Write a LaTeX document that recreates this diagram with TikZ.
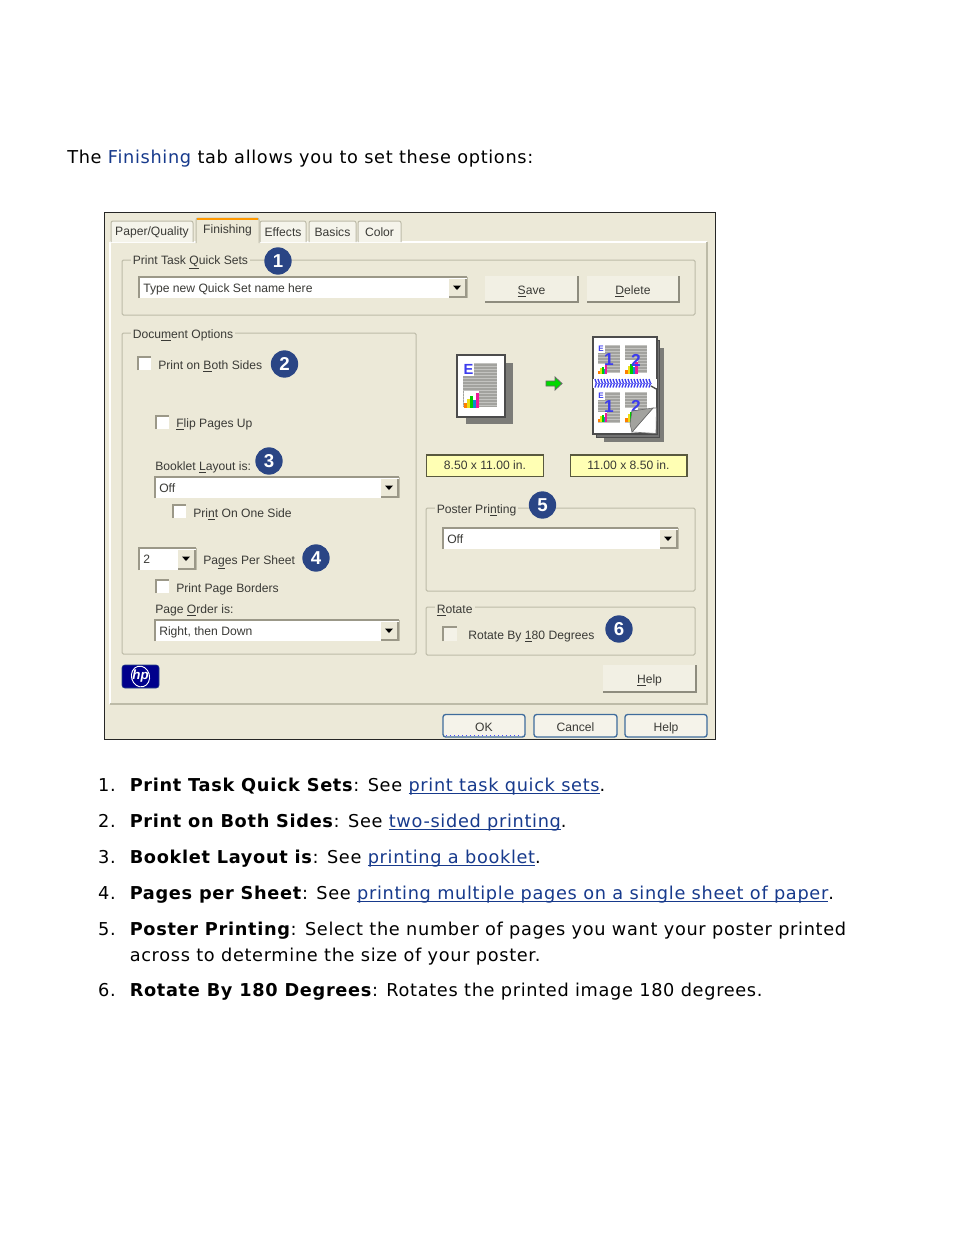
\documentclass[tikz,border=0pt]{standalone}
\usepackage{fontspec}
\setmainfont[LetterSpace=3.8]{DejaVu Sans}
\newfontfamily\dlgfont{Liberation Sans}
\definecolor{linkblue}{HTML}{173A8C}
\definecolor{dlgbg}{HTML}{ECE9D8}
\definecolor{framegrey}{HTML}{BDBBA8}
\definecolor{sunkgrey}{HTML}{9B9888}
\definecolor{dlgtext}{HTML}{3A3A36}
\definecolor{hpblue}{HTML}{2A4585}
\definecolor{xpblue}{HTML}{3F6C9C}
\definecolor{notegold}{HTML}{FFFFB4}
\definecolor{pageblue}{HTML}{3C3CEE}
\definecolor{shadegrey}{HTML}{7C7C78}
\definecolor{blockgrey}{HTML}{A2A29E}
\newcommand{\lk}[1]{\textcolor{linkblue}{\underline{\smash{#1}}}}
\tikzset{
  x=0.75pt, y=-0.75pt,
  bodytext/.style={font=\fontsize{13.3}{15}\selectfont, inner sep=0pt, anchor=base west},
  itemnum/.style={font=\fontsize{13.3}{15}\selectfont, inner sep=0pt, anchor=base east},
  lbl/.style={font=\dlgfont\fontsize{9.1}{11}\selectfont, text=dlgtext, inner sep=0pt, anchor=base west},
  grouplbl/.style={lbl, fill=dlgbg, inner xsep=1.5pt, inner ysep=1pt},
  badge/.style={circle, fill=hpblue, text=white, inner sep=0pt, minimum size=20.5pt,
    font=\dlgfont\bfseries\fontsize{14}{14}\selectfont},
  groupframe/.style={draw=framegrey, line width=0.75pt, rounded corners=1pt},
  sunken/.style={draw=sunkgrey, line width=1.2pt},
  tabline/.style={draw=framegrey, line width=0.75pt, rounded corners=1.5pt},
  pushbtn/.style={lbl, anchor=base, text=dlgtext},
  notebox/.style={draw=black!65!notegold, fill=notegold, line width=1pt, text=dlgtext,
    font=\dlgfont\fontsize{9.1}{11}\selectfont, minimum width=87.5pt, minimum height=16pt, inner sep=0pt},
  pagedigit/.style={text=pageblue, inner sep=0pt, font=\dlgfont\bfseries\fontsize{13}{13}\selectfont},
  pageletter/.style={text=pageblue, inner sep=0pt, font=\dlgfont\bfseries\fontsize{#1}{#1}\selectfont},
}
% small bar chart, lower left corner at #1,#2, bar unit #3
\newcommand{\minichart}[3]{%
  \fill [white] (#1,#2) rectangle ++(5.2*#3,-5.4*#3);
  \fill [orange] (#1+0.2*#3,#2) rectangle ++(#3,-1.6*#3);
  \fill [yellow!90!black] (#1+1.2*#3,#2) rectangle ++(#3,-3*#3);
  \fill [green!80!black] (#1+2.2*#3,#2) rectangle ++(#3,-3.8*#3);
  \fill [cyan!70!blue] (#1+3.2*#3,#2) rectangle ++(0.8*#3,-2.6*#3);
  \fill [magenta!90] (#1+4*#3,#2) rectangle ++(#3,-4.8*#3);
}
% grey text block
\newcommand{\textblock}[4]{%
  \fill [blockgrey] (#1,#2) rectangle (#3,#4);
  \pgfmathsetmacro{\nrows}{int((#4-#2)/3)}
  \foreach \k in {0,...,\nrows} \draw [white!35!blockgrey, line width=0.25pt] (#1,#2+\k*3) -- (#3,#2+\k*3);
}
\begin{document}
\begin{tikzpicture}
\useasboundingbox [fill=white] (0,0) rectangle (954,1235);
% Intro line
\node [bodytext] (intro) at (67,163.4) {The \textcolor{linkblue}{Finishing} tab allows you to set these options:};
% Window
\draw [fill=dlgbg, line width=1.2pt, draw=black!85] (104.5,212.5) rectangle (715.5,739.5);
\draw [white, line width=1pt, fill=dlgbg] (110,242) -- (110,704);
\draw [white, line width=1pt] (110,242) -- (707,242);
\draw [framegrey, line width=1.4pt] (707,242) -- (707,704) -- (110,704);
% Tabs
\foreach \n/\xa/\xb/\txt in {paper/111/193/{Paper/Quality}, effects/260/306/Effects, basics/309/356/Basics, color/358/401/Color}{
  \draw [tabline, fill=dlgbg!50!white] (\xa,242) -- (\xa,221) -- (\xb,221) -- (\xb,242);
  \node [lbl, anchor=center] (tab\n) at ({(\xa+\xb)/2},232) {\txt};
}
\draw [tabline, fill=dlgbg] (196,243) -- (196,218) -- (259,218) -- (259,243);
\draw [orange!80!yellow, line width=1.5pt] (197,219) -- (258,219);
\node [lbl, anchor=center] (tabfinishing) at (227.5,230) {Finishing};
% Group frames
\draw [groupframe] (122,260) rectangle (695,315);
\draw [groupframe] (122,333) rectangle (416,654);
\draw [groupframe] (426,508) rectangle (695,591);
\draw [groupframe] (426,607) rectangle (695,655);
\node [grouplbl] (quicksets) at (130.5,264) {Print Task \underline{Q}uick Sets};
\node [grouplbl] (docoptions) at (130.5,338) {Docu\underline{m}ent Options};
\node [grouplbl] (poster) at (434.5,513) {Poster Pri\underline{n}ting};
\node [grouplbl] (rotate) at (434.5,613) {\underline{R}otate};
% Combo boxes
\foreach \n/\xa/\ya/\xb/\yb/\txt in {qsname/139/277/467/298/Type new Quick Set name here,
    booklet/155/477/399/498/Off, order/155/620/399/641/{Right, then Down},
    posteroff/443/528/678/549/Off, pps/139/548/196/570/2}{
  \fill [white] (\xa,\ya) rectangle (\xb,\yb);
  \draw [sunken] (\xa,\yb) -- (\xa,\ya) -- (\xb,\ya);
  \draw [framegrey, line width=0.75pt] (\xb,\ya) -- (\xb,\yb);
  \fill [dlgbg] (\xb-18,\ya+2) rectangle (\xb-1,\yb-1);
  \draw [sunkgrey, line width=0.9pt] (\xb-18,\yb-1) -- (\xb-1,\yb-1) -- (\xb-1,\ya+2);
  \fill [black] (\xb-14,\ya+8.5) -- (\xb-6,\ya+8.5) -- (\xb-10,\ya+13) -- cycle;
  \node [lbl] (combo\n) at (\xa+4,\ya+15) {\txt};
}
% Check boxes
\foreach \n/\x/\y in {both/138/357, flip/156/416, oneside/173/505, borders/156/580}{
  \fill [white] (\x,\y) rectangle ++(13,13);
  \draw [sunken] (\x,\y+13) -- (\x,\y) -- (\x+13,\y);
}
\fill [dlgbg!60!white] (443,627) rectangle ++(14,14);
\draw [sunken] (443,641) -- (443,627) -- (457,627);
% Check box and field labels
\node [lbl] (bothsides) at (158,369) {Print on \underline{B}oth Sides};
\node [lbl] (flipup) at (176,427) {\underline{F}lip Pages Up};
\node [lbl] (bookletis) at (155,470) {Booklet \underline{L}ayout is:};
\node [lbl] (oneside) at (193,517) {Pri\underline{n}t On One Side};
\node [lbl] (perside) at (203,564) {Pa\underline{g}es Per Sheet};
\node [lbl] (pageborders) at (176,592) {Print Page Borders};
\node [lbl] (orderis) at (155,613) {Page \underline{O}rder is:};
\node [lbl] (rotate180) at (468,639) {Rotate By \underline{1}80 Degrees};
% Buttons
\foreach \n/\xa/\ya/\xb/\yb/\txt in {save/485/276/578/302/\underline{S}ave, delete/587/276/679/302/\underline{D}elete,
    help/603/665/696/692/\underline{H}elp}{
  \fill [dlgbg!70!white] (\xa,\ya) rectangle (\xb,\yb);
  \draw [framegrey!75!black, line width=1.2pt] (\xa,\yb) -- (\xb,\yb) -- (\xb,\ya);
  \node [pushbtn] (btn\n) at ({(\xa+\xb)/2},{(\ya+\yb)/2+5}) {\txt};
}
\foreach \n/\xa/\xb/\txt in {ok/443/525/OK, cancel/534/617/Cancel, helptwo/625/707/Help}{
  \draw [xpblue, fill=dlgbg!55!white, line width=1pt, rounded corners=2pt] (\xa,714.5) rectangle (\xb,737);
  \node [pushbtn] (btn\n) at ({(\xa+\xb)/2},731) {\txt};
}
\draw [blue!70!white, line width=1pt, dotted] (446,735.5) -- (522,735.5);
% Logo
\draw [fill=blue!55!black, draw=hpblue, rounded corners=2pt] (122,665) rectangle (159,688);
\draw [white, line width=0.7pt, rotate around={15:(140.5,676.5)}] (140.5,676.5) ellipse (9 and 10.5);
\node [font=\dlgfont\bfseries\itshape\fontsize{10}{10}\selectfont, text=white, inner sep=0pt] (hplogo) at (140.5,676.5) {hp};
% Source page
\fill [shadegrey] (466,363) rectangle (513,424);
\draw [fill=white, draw=black!70, line width=0.9pt] (457,355) rectangle (505,417);
\textblock{463}{363}{497}{407}
\fill [white] (463,363) rectangle (474,376);
\node [pageletter=11] (pageE) at (468.5,369.5) {E};
\minichart{463.5}{407.5}{3}
% Arrow
\draw [fill=green!85!black, draw=black!60, line width=0.6pt] (546,381) -- (555,381) -- (555,377) -- (562,383.5)
  -- (555,390) -- (555,386) -- (546,386) -- cycle;
% Booklet pages
\fill [shadegrey] (604,348) rectangle (664,442);
\draw [fill=black!55, draw=black!70] (596,340) rectangle (659,437);
\draw [fill=white, draw=black!70, line width=0.9pt] (593,337) rectangle (657,434);
\foreach \n/\x/\y in {a/598/345, b/625/345}{\textblock{\x}{\y}{\x+22}{\y+28}}
\foreach \n/\x/\y in {c/598/392, d/625/392}{\textblock{\x}{\y}{\x+22}{\y+30}}
\fill [white] (598,345) rectangle ++(7,8);
\fill [white] (598,392) rectangle ++(7,8);
\node [pageletter=6] (letterone) at (601,349) {E};
\node [pageletter=6] (lettertwo) at (601,396) {E};
\minichart{597.5}{374}{1.9}
\minichart{624.5}{374}{2.6}
\minichart{597.5}{422}{1.9}
\minichart{624.5}{422}{2.6}
\node [pagedigit] (topone) at (609,360) {1};
\node [pagedigit] (toptwo) at (636,360) {2};
\node [pagedigit] (botone) at (609,407) {1};
\node [pagedigit] (bottwo) at (636,406) {2};
% Spiral
\fill [white] (593,379) rectangle (657,388);
\foreach \x in {595,598,...,651}{\draw [pageblue, line width=1pt] (\x,379) -- (\x+1.5,383.3) -- (\x,387.5);}
\draw [pageblue!70!white, line width=1pt] (595,383.3) -- (652,383.3);
\draw [black!70, line width=1pt] (651,386) -- (658,390);
% Page curl
\fill [black!50] (653,408) -- (631,419) -- (632,432) -- cycle;
\draw [fill=white, draw=black!55, line width=0.5pt] (653,408) -- (632,432) -- (656,433.5) -- (656.5,408) -- cycle;
\fill [blockgrey, draw=black!60, line width=0.4pt] (653,408) -- (632,411) -- (630,424) -- (632,432) -- cycle;
% Paper size notes
\node [notebox] (sizefrom) at (485,465.5) {8.50 x 11.00 in.};
\node [notebox] (sizeto) at (628.5,465.5) {11.00 x 8.50 in.};
% Numbered marks
\node [badge] (markone) at (278,261) {1};
\node [badge] (marktwo) at (284.5,364) {2};
\node [badge] (markthree) at (269,461) {3};
\node [badge] (markfour) at (316,558) {4};
\node [badge] (markfive) at (542.5,505) {5};
\node [badge] (marksix) at (619,629) {6};
% List
\foreach \n/\y in {1/791, 2/827, 3/863, 4/899, 5/935, 6/996}{
  \node [itemnum] (num\n) at (116,\y) {\n.};
}
\node [bodytext] (itemone) at (129.5,791) {\textbf{Print Task Quick Sets}: See \lk{print task quick sets}.};
\node [bodytext] (itemtwo) at (129.5,827) {\textbf{Print on Both Sides}: See \lk{two-sided printing}.};
\node [bodytext] (itemthree) at (129.5,863) {\textbf{Booklet Layout is}: See \lk{printing a booklet}.};
\node [bodytext] (itemfour) at (129.5,899) {\textbf{Pages per Sheet}: See \lk{printing multiple pages on a single sheet of paper}.};
\node [bodytext] (itemfive) at (129.5,935) {\textbf{Poster Printing}: Select the number of pages you want your poster printed};
\node [bodytext] (itemfivecont) at (129.5,961) {across to determine the size of your poster.};
\node [bodytext] (itemsix) at (129.5,996) {\textbf{Rotate By 180 Degrees}: Rotates the printed image 180 degrees.};
\end{tikzpicture}
\end{document}
